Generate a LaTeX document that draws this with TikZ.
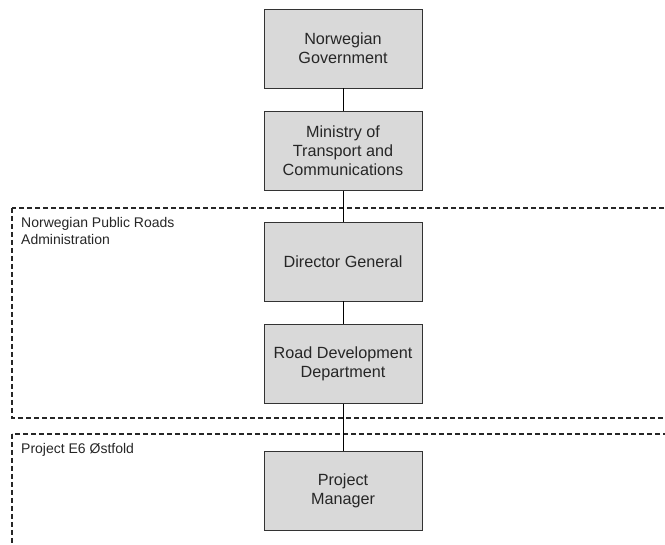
\documentclass[tikz,border=0pt]{standalone}
\usepackage{fontspec}
\setmainfont{Liberation Sans}
\usetikzlibrary{calc}

\tikzset{
  orgbox/.style={draw=black!80,line width=0.8pt,fill=gray!30,minimum width=158pt,minimum height=79pt,
    align=center,text=black!85,font=\fontsize{16.2}{19}\selectfont},
  zone/.style={draw=black!85,line width=1.3pt,dash pattern=on 5pt off 3pt},
  zonelabel/.style={anchor=north west,align=left,inner sep=0pt,text=black!85,font=\fontsize{14}{17}\selectfont}
}

\begin{document}
\begin{tikzpicture}[x=1pt,y=1pt]
\useasboundingbox (0,0) rectangle (665,-545);
\coordinate (G0) at (343,-48.5);
  % dashed areas
  \coordinate (A1) at (12,-208);
  \coordinate (A2) at (668,-418);
  \coordinate (P1) at (12,-434);
  \coordinate (P2) at (668,-550);
  \draw[zone] (A1) rectangle (A2);
  \draw[zone] (P1) rectangle (P2);
  \node[zonelabel] (Alabel) at ($(A1)+(9,-9)$) {Norwegian Public Roads\\Administration};
  \node[zonelabel] (Plabel) at ($(P1)+(9,-9)$) {Project E6 Østfold};
  % boxes
  \node[orgbox] (G) at (G0) {Norwegian\\Government};
  \node[orgbox] (M) at ($(G0)+(0,-102.5)$) {Ministry of\\Transport and\\Communications};
  \node[orgbox] (D) at ($(G0)+(0,-213)$) {Director General};
  \node[orgbox] (R) at ($(G0)+(0,-315.5)$) {Road Development\\Department};
  \node[orgbox] (PM) at ($(G0)+(0,-442.5)$) {Project\\Manager};
  \path[draw=black,line width=0.8pt] (G) edge (M) (M) edge (D) (D) edge (R) (R) edge (PM);
\end{tikzpicture}
\end{document}
